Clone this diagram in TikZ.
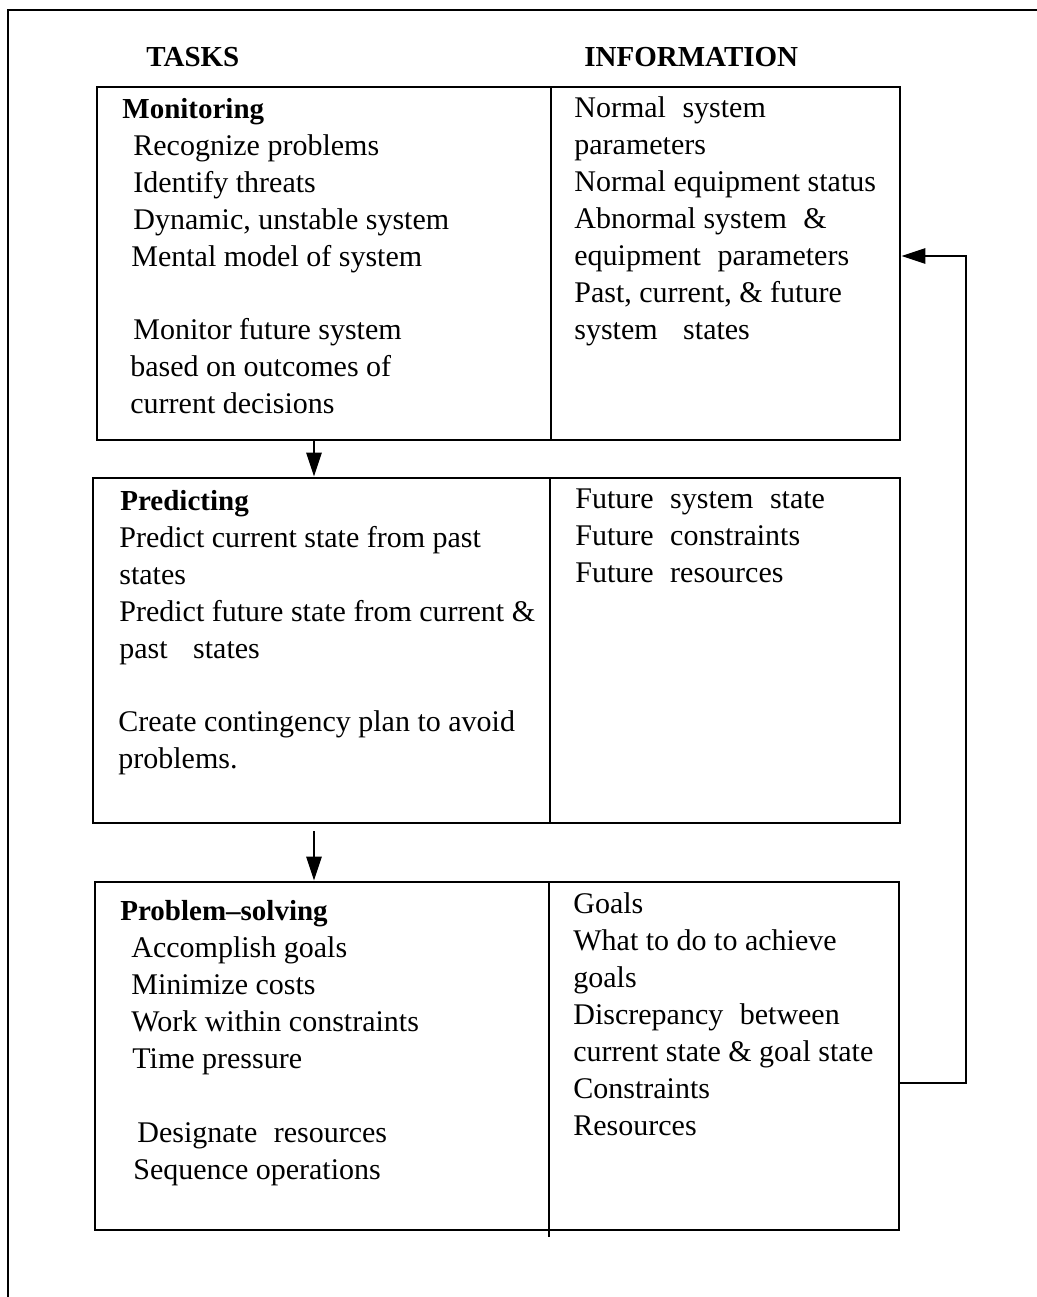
\documentclass[tikz,border=0pt]{standalone}
\usepackage{fontspec}
\setmainfont{Liberation Serif}
\usetikzlibrary{arrows.meta,fit}
\newcommand\gp{\hspace{0.3em}}
\begin{document}
\begin{tikzpicture}[x=0.5pt,y=-0.5pt,
  box/.style={draw,line width=1.4pt,inner sep=0pt},
  frame/.style={line width=1.2pt},
  txt/.style={anchor=base west,inner sep=0pt,font=\fontsize{15}{18}\selectfont},
  head/.style={anchor=base west,inner sep=0pt,font=\fontsize{14.5}{18}\selectfont\bfseries},
  arr/.style={line width=1.4pt,-{Triangle[length=12pt,width=7.5pt]}},
  link/.style={line width=1.4pt}]
\useasboundingbox (0,0) rectangle (1037,1297);
% outer frame (only top and left visible)
\draw[frame] (8,1297) -- (8,10) -- (1037,10);
% headings
\node[head] (hT) at (146,66) {TASKS};
\node[head] (hI) at (584,66) {INFORMATION};
% boxes
\node[box,fit={(97,87) (900,440)}] (b1) {};
\node[box,fit={(93,478) (900,823)}] (b2) {};
\node[box,fit={(95,882) (899,1230)}] (b3) {};
\draw[link] (551,87) -- (551,440);
\draw[link] (550,478) -- (550,823);
\draw[link] (549,882) -- (549,1237);
% box 1 texts
\node[head] (m0) at (122,118) {Monitoring};
\node[txt] (m1) at (133,155) {Recognize problems};
\node[txt] (m2) at (133,192) {Identify threats};
\node[txt] (m3) at (133,229) {Dynamic, unstable system};
\node[txt] (m4) at (131,266) {Mental model of system};
\node[txt] (m5) at (133,339) {Monitor future system};
\node[txt] (m6) at (130,376) {based on outcomes of};
\node[txt] (m7) at (130,413) {current decisions};
\node[txt] (i1) at (574,117) {Normal\gp{} system};
\node[txt] (i2) at (574,154) {parameters};
\node[txt] (i3) at (574,191) {Normal equipment status};
\node[txt] (i4) at (574,228) {Abnormal system\gp{} \&};
\node[txt] (i5) at (574,265) {equipment\gp{} parameters};
\node[txt] (i6) at (574,302) {Past, current, \& future};
\node[txt] (i7) at (574,339) {system\gp\gp{} states};
% box 2 texts
\node[head] (p0) at (120,510) {Predicting};
\node[txt] (p1) at (119,547) {Predict current state from past};
\node[txt] (p2) at (119,584) {states};
\node[txt] (p3) at (119,621) {Predict future state from current \&};
\node[txt] (p4) at (119,658) {past\gp\gp{} states};
\node[txt] (p5) at (118,731) {Create contingency plan to avoid};
\node[txt] (p6) at (118,768) {problems.};
\node[txt] (j1) at (575,508) {Future\gp{} system\gp{} state};
\node[txt] (j2) at (575,545) {Future\gp{} constraints};
\node[txt] (j3) at (575,582) {Future\gp{} resources};
% box 3 texts
\node[head] (s0) at (120,920) {Problem–solving};
\node[txt] (s1) at (131,957) {Accomplish goals};
\node[txt] (s2) at (131,994) {Minimize costs};
\node[txt] (s3) at (131,1031) {Work within constraints};
\node[txt] (s4) at (132,1068) {Time pressure};
\node[txt] (s5) at (137,1142) {Designate\gp{} resources};
\node[txt] (s6) at (133,1179) {Sequence operations};
\node[txt] (k1) at (573,913) {Goals};
\node[txt] (k2) at (573,950) {What to do to achieve};
\node[txt] (k3) at (573,987) {goals};
\node[txt] (k4) at (573,1024) {Discrepancy\gp{} between};
\node[txt] (k5) at (573,1061) {current state \& goal state};
\node[txt] (k6) at (573,1098) {Constraints};
\node[txt] (k7) at (573,1135) {Resources};
% connectors
\coordinate (col) at (314,0);
\coordinate (fbx) at (966,0);
\coordinate (fbout) at (0,1083);
\coordinate (fbin) at (0,256);
\draw[arr] (b1.south -| col) -- (b2.north -| col);
\draw[arr] ([yshift=-3.5pt]b2.south -| col) -- (b3.north -| col);
\draw[arr] (b3.east |- fbout) -| (fbx |- fbin) -- (b1.east |- fbin);
\end{tikzpicture}
\end{document}
